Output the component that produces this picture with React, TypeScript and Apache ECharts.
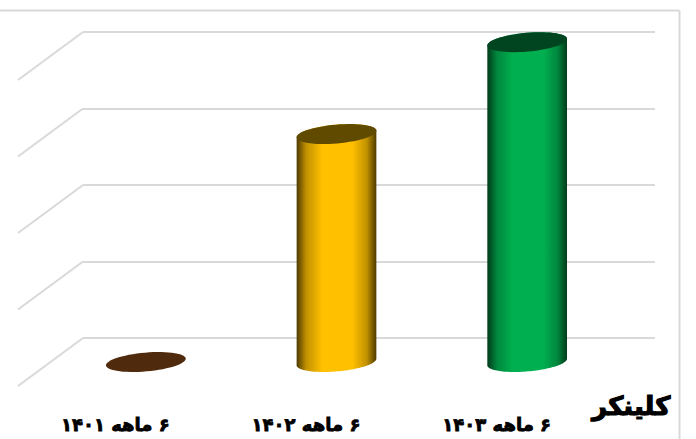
import React, { useEffect, useRef } from "react";
import * as echarts from "echarts";

const categories = ["۶ ماهه ۱۴۰۱", "۶ ماهه ۱۴۰۲", "۶ ماهه ۱۴۰۳"];
const values = [0, 2.98, 4.18];
const ticks = [0, 1, 2, 3, 4];
const bodyColors = ["#7a4a1f", "#ffc000", "#00b050"];
const capColors = ["#4f2a0d", "#5f4a00", "#00451f"];
const edgeColors = ["#4f2a0d", "#4d3a00", "#003a1a"];
const chartTitle = "کلینکر";

const DEPTH_X = 32.5;
const DEPTH_Y = 24;
const RX = 40;
const RY = 9.4;
const TILT = (-5 * Math.PI) / 180;

function ellipsePoint(cx: number, cy: number, t: number): number[] {
  const ex = RX * Math.cos(t);
  const ey = RY * Math.sin(t);
  return [cx + ex * Math.cos(TILT) - ey * Math.sin(TILT), cy + ex * Math.sin(TILT) + ey * Math.cos(TILT)];
}

function arc(cx: number, cy: number, from: number, to: number): number[][] {
  const pts: number[][] = [];
  for (let i = 0; i <= 60; i++) pts.push(ellipsePoint(cx, cy, from + ((to - from) * i) / 60));
  return pts;
}

export default function App() {
  const ref = useRef<HTMLDivElement>(null);
  useEffect(() => {
    document.body.style.margin = "0";
    const chart = echarts.init(ref.current!, undefined, { renderer: "svg" });
    chart.setOption({
      animation: false,
      backgroundColor: "#ffffff",
      title: {
        text: chartTitle,
        left: 587,
        top: 388,
        textStyle: {
          fontFamily: "DejaVu Sans",
          fontWeight: "bold",
          fontSize: 26,
          color: "#000000",
          textBorderColor: "#000000",
          textBorderWidth: 1.2,
        },
      },
      grid: { left: 83, right: 41, top: 32, bottom: 101 },
      xAxis: {
        type: "category",
        data: categories,
        axisLine: { show: false },
        axisTick: { show: false },
        axisLabel: {
          margin: 77,
          padding: [0, 126, 0, 0],
          formatter: (v: string) => "\u200F" + v,
          fontFamily: "DejaVu Sans",
          fontWeight: "bold",
          fontSize: 18,
          color: "#000000",
          textBorderColor: "#000000",
          textBorderWidth: 0.8,
        },
      },
      yAxis: {
        type: "value",
        min: 0,
        max: 4,
        interval: 1,
        axisLine: { show: false },
        axisTick: { show: false },
        axisLabel: { show: false },
        splitLine: { lineStyle: { color: "#d9d9d9", width: 2 } },
      },
      graphic: [
        { type: "line", shape: { x1: 0, y1: 10.5, x2: 679.5, y2: 10.5 }, style: { stroke: "#d9d9d9", lineWidth: 2 } },
        { type: "line", shape: { x1: 679.5, y1: 10.5, x2: 679.5, y2: 439 }, style: { stroke: "#d9d9d9", lineWidth: 2 } },
      ],
      series: [
        {
          type: "custom",
          coordinateSystem: "cartesian2d",
          silent: true,
          z: 1,
          clip: false,
          data: ticks.map((t) => [0, t]),
          renderItem: (_: any, api: any) => {
            const p = api.coord([0, api.value(1)]);
            const x0 = 83;
            return {
              type: "line",
              shape: { x1: x0, y1: p[1], x2: x0 - 65, y2: p[1] + 48 },
              style: { stroke: "#d9d9d9", lineWidth: 2 },
            };
          },
        },
        {
          type: "custom",
          coordinateSystem: "cartesian2d",
          silent: true,
          z: 3,
          clip: false,
          data: values.map((v, i) => [i, v]),
          renderItem: (params: any, api: any) => {
            const i = params.dataIndex;
            const top = api.coord([api.value(0), api.value(1)]);
            const base = api.coord([api.value(0), 0]);
            const cx = top[0] - DEPTH_X;
            const yt = top[1] + DEPTH_Y;
            const yb = base[1] + DEPTH_Y;
            const children: any[] = [];
            if (api.value(1) > 0) {
              const pts = [...arc(cx, yb, 0, Math.PI), ...arc(cx, yt, Math.PI, 2 * Math.PI)];
              const shade = echarts.color.lerp(0.65, [edgeColors[i], bodyColors[i]]);
              children.push({
                type: "polygon",
                shape: { points: pts },
                style: {
                  fill: new echarts.graphic.LinearGradient(0, 0, 1, 0, [
                    { offset: 0, color: edgeColors[i] },
                    { offset: 0.12, color: shade },
                    { offset: 0.32, color: bodyColors[i] },
                    { offset: 0.7, color: bodyColors[i] },
                    { offset: 0.88, color: shade },
                    { offset: 1, color: edgeColors[i] },
                  ]),
                },
              });
            }
            children.push({
              type: "polygon",
              shape: { points: arc(cx, yt, 0, 2 * Math.PI) },
              style: { fill: capColors[i] },
            });
            return { type: "group", children };
          },
        },
      ],
    });
    return () => chart.dispose();
  }, []);
  return <div ref={ref} style={{ width: 696, height: 439 }} />;
}
